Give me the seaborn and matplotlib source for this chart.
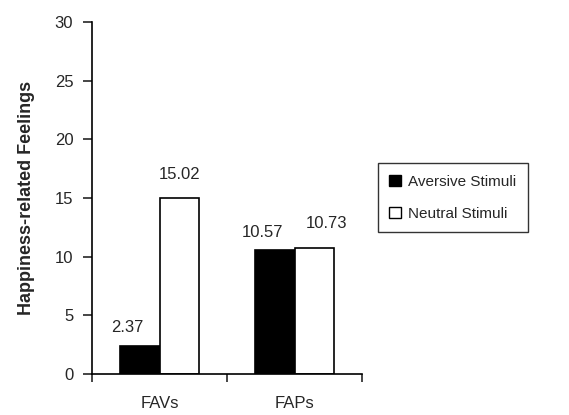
import pandas as pd
import matplotlib
matplotlib.use("Agg")
import matplotlib.pyplot as plt
import seaborn as sns

groups = ["FAVs", "FAPs"]
conditions = ["Aversive Stimuli", "Neutral Stimuli"]
aversive = [2.37, 10.57]
neutral = [15.02, 10.73]

data = pd.DataFrame({
    "group": groups * 2,
    "condition": [conditions[0]] * 2 + [conditions[1]] * 2,
    "value": aversive + neutral,
})

sns.set_style("ticks")
plt.rcParams["font.family"] = ["Liberation Sans", "DejaVu Sans"]

fig = plt.figure(figsize=(5.69, 4.15), dpi=100)
ax = fig.add_axes([0.1617, 0.0988, 0.4745, 0.8482])

sns.barplot(data=data, x="group", y="value", hue="condition",
            palette={conditions[0]: "black", conditions[1]: "white"},
            edgecolor="black", linewidth=1.2, width=0.58, ax=ax,
            legend=False)

# value labels; the original has them nudged a bit off-centre
nudges = [[(-9, 8), (-9, 7)], [(0, 11), (9, 12)]]
for cont, nd in zip(ax.containers, nudges):
    anns = ax.bar_label(cont, fmt="%.2f", padding=8, fontsize=12)
    for ann, off in zip(anns, nd):
        ann.xyann = off

ax.set_ylim(0, 30)
ax.set_yticks(range(0, 31, 5))
ax.set_xlim(-0.5, 1.5)
ax.set_xticks([-0.5, 0.5, 1.5])
ax.set_xticklabels([])
ax.set_xticks([0, 1], minor=True)
ax.set_xticklabels(groups, minor=True)
ax.tick_params(axis="x", which="minor", length=0, pad=16, labelsize=12)
ax.tick_params(axis="x", which="major", length=6, width=1.2, direction="out")
ax.tick_params(axis="y", length=6.5, width=1.2, labelsize=12, pad=7)
ax.set_xlabel("")
ax.set_ylabel("Happiness-related Feelings", fontsize=13, fontweight="bold", labelpad=14)
sns.despine(ax=ax)
for s in ["left", "bottom"]:
    ax.spines[s].set_linewidth(1.2)
    ax.spines[s].set_color("black")

handles = [plt.Rectangle((0, 0), 1, 1, facecolor=c, edgecolor="black")
           for c in ["black", "white"]]
fig.legend(handles, conditions, loc="upper left", bbox_to_anchor=(0.664, 0.607),
           frameon=True, fancybox=False, edgecolor="black", fontsize=11,
           handlelength=0.8, handleheight=0.7, handletextpad=0.45,
           labelspacing=1.2, borderpad=0.75, borderaxespad=0)

fig.savefig("out.png", dpi=100)
